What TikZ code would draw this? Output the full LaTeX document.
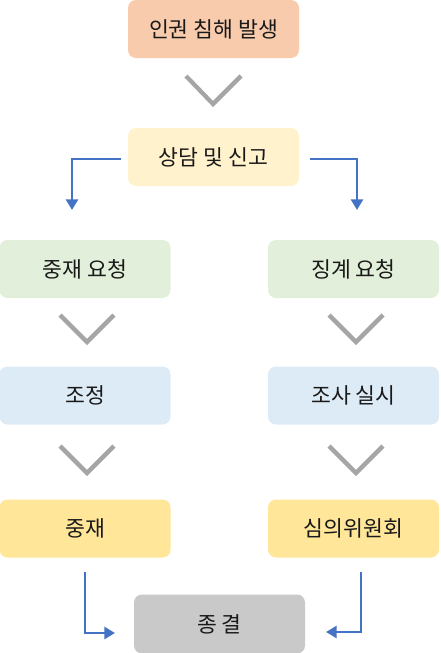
\documentclass[tikz,border=0pt]{standalone}
\usepackage{fontspec}
\setmainfont{Noto Sans CJK KR}
\usetikzlibrary{arrows.meta}
\definecolor{cOrange}{HTML}{F8CBAD}
\definecolor{cCream}{HTML}{FFF2CC}
\definecolor{cGreen}{HTML}{E2EFDA}
\definecolor{cBlue}{HTML}{DDEBF7}
\definecolor{cGold}{HTML}{FFE699}
\definecolor{cGray}{HTML}{C9C9C9}
\definecolor{cChev}{HTML}{A5A5A5}
\definecolor{cArrow}{HTML}{4472C4}
\tikzset{
  box/.style={rounded corners=6pt, minimum width=128.25pt, minimum height=43.5pt, inner sep=0pt, font=\fontsize{16.2}{19}\selectfont, text=black!90},
  chev/.style={draw=cChev, line width=3.2pt},
  conn/.style={draw=cArrow, line width=1.9pt, -{Triangle[length=8pt,width=9pt]}},
}
\begin{document}
\begin{tikzpicture}[x=0.75pt,y=-0.75pt]
\useasboundingbox (0,0) rectangle (440,653);
\node[box, fill=cOrange] (b1) at (213.5,29) {인권 침해 발생};
\node[box, fill=cCream] (b2) at (213.5,157) {상담 및 신고};
\node[box, fill=cGreen] (l1) at (85,269) {중재 요청};
\node[box, fill=cGreen] (r1) at (353.5,269) {징계 요청};
\node[box, fill=cBlue] (l2) at (85,395.5) {조정};
\node[box, fill=cBlue] (r2) at (353.5,395.5) {조사 실시};
\node[box, fill=cGold] (l3) at (85,528.5) {중재};
\node[box, fill=cGold] (r3) at (353.5,528.5) {심의위원회};
\node[box, fill=cGray, minimum height=44.25pt] (end) at (219.5,624) {종 결};
% chevrons
\coordinate (c1a) at (186,76); \coordinate (c1b) at (213,104); \coordinate (c1c) at (241,76);
\draw[chev] (c1a) -- (c1b) -- (c1c);
\coordinate (c2a) at (60,315); \coordinate (c2b) at (87,342); \coordinate (c2c) at (114,315);
\draw[chev] (c2a) -- (c2b) -- (c2c);
\coordinate (c3a) at (329,315); \coordinate (c3b) at (356,342); \coordinate (c3c) at (383,315);
\draw[chev] (c3a) -- (c3b) -- (c3c);
\coordinate (c4a) at (60,446); \coordinate (c4b) at (87,473); \coordinate (c4c) at (114,446);
\draw[chev] (c4a) -- (c4b) -- (c4c);
\coordinate (c5a) at (329,446); \coordinate (c5b) at (356,473); \coordinate (c5c) at (383,446);
\draw[chev] (c5a) -- (c5b) -- (c5c);
% blue connectors
\coordinate (s1) at (121,159); \coordinate (t1) at (72,210);
\draw[conn] (s1) -| (t1);
\coordinate (s2) at (310,159); \coordinate (t2) at (357,210);
\draw[conn] (s2) -| (t2);
\coordinate (s3) at (85,572); \coordinate (t3) at (115,633);
\draw[conn] (s3) |- (t3);
\coordinate (s4) at (361,572); \coordinate (t4) at (326,632);
\draw[conn] (s4) |- (t4);
\end{tikzpicture}
\end{document}
